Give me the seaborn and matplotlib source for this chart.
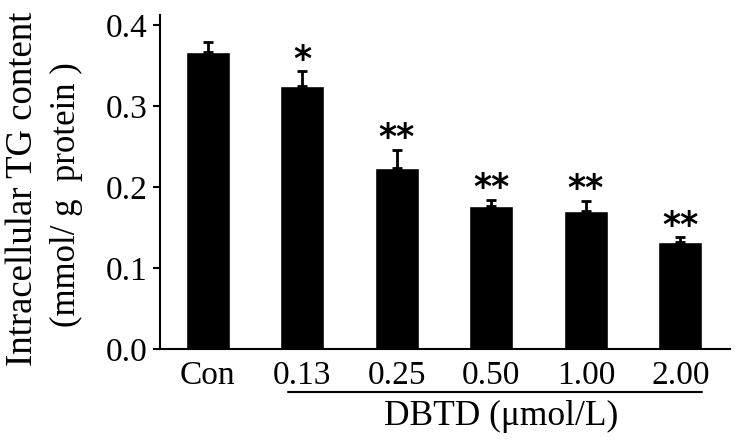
import matplotlib
matplotlib.use("Agg")
import matplotlib.pyplot as plt
import matplotlib.transforms as mtransforms
import seaborn as sns

groups = ["Con", "0.13", "0.25", "0.50", "1.00", "2.00"]
tg_mean = [0.367, 0.325, 0.223, 0.177, 0.170, 0.132]
tg_err = [0.012, 0.018, 0.023, 0.007, 0.013, 0.006]
stars = ["", "*", "**", "**", "**", "**"]

sns.set_style("ticks", {"axes.edgecolor": "black", "text.color": "black",
                        "xtick.color": "black", "ytick.color": "black",
                        "axes.labelcolor": "black"})
plt.rcParams["font.family"] = ["Liberation Serif", "DejaVu Serif"]

fig = plt.figure(figsize=(7.4, 4.43), dpi=100)
ax = fig.add_axes([0.216, 0.212, 0.770, 0.754])

sns.barplot(x=groups, y=tg_mean, color="black", saturation=1, width=0.465, ax=ax)
ax.errorbar(range(len(groups)), tg_mean, yerr=[[0] * len(groups), tg_err],
            fmt="none", ecolor="black", elinewidth=2, capsize=3.5, capthick=2)

# significance marks above the error bars
for i, s in enumerate(stars):
    if s:
        ax.annotate(s, (i, tg_mean[i] + tg_err[i]), xytext=(0, -4),
                    textcoords="offset points", ha="center", va="bottom",
                    fontsize=25, fontweight="bold", family="DejaVu Sans",
                    color="black")

ax.set_xlim(-0.507, 5.52)
ax.set_ylim(0, 0.412)
ax.set_yticks([0.0, 0.1, 0.2, 0.3, 0.4])
ax.set_yticklabels(["0.0", "0.1", "0.2", "0.3", "0.4"])

sns.despine(ax=ax)
ax.spines["left"].set_linewidth(1.5)
ax.spines["bottom"].set_linewidth(1.5)
ax.tick_params(axis="y", length=5, width=1.5, pad=4, labelsize=24, colors="black")
ax.tick_params(axis="x", length=0, pad=8, labelsize=24, colors="black")

# bracket line under the DBTD doses
trans = mtransforms.blended_transform_factory(ax.transData, ax.transAxes)
ax.plot([0.85, 5.23], [-0.129, -0.129], color="black", lw=1.5,
        transform=trans, clip_on=False)
ax.text(3.10, -0.2275, "DBTD (μmol/L)", transform=trans, ha="center",
        va="baseline", fontsize=25.5, color="black")

fig.text(0.031, 0.573, "Intracellular TG content", rotation=90,
         ha="center", va="center", fontsize=26.5, color="black")
fig.text(0.0905, 0.56, "(mmol/ g  protein )", rotation=90,
         ha="center", va="center", fontsize=25, color="black")

fig.savefig("out.png", dpi=100)
